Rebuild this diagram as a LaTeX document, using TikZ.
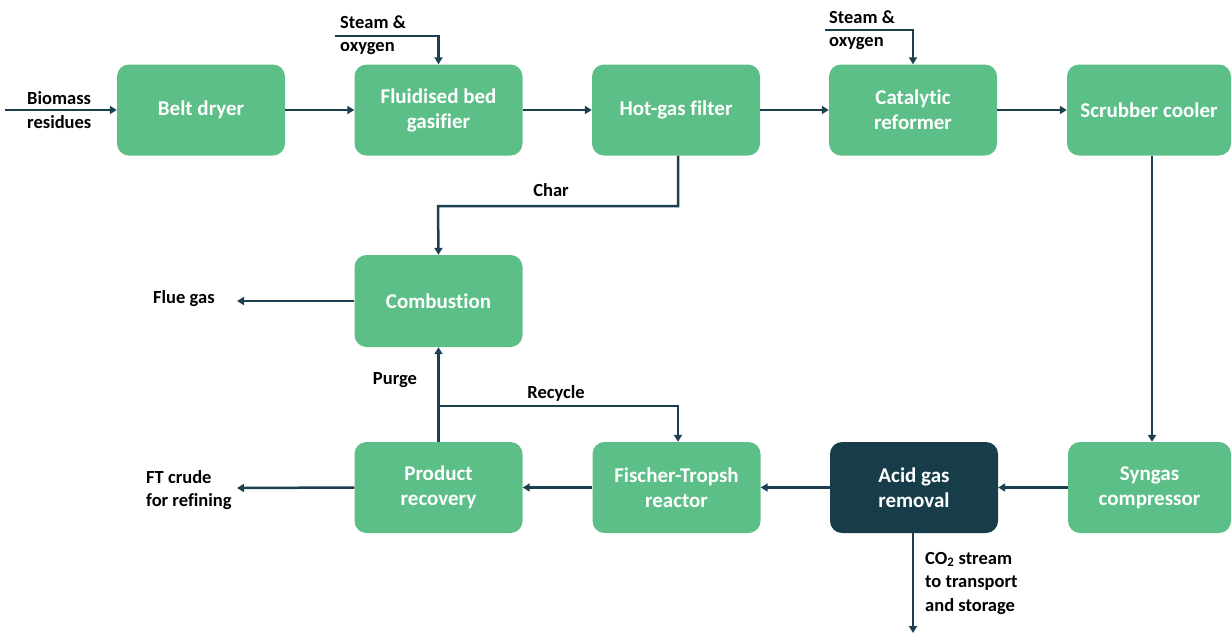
\documentclass[tikz,border=0pt]{standalone}
\usepackage{fontspec}
\setmainfont{Carlito}[RawFeature={-liga,-clig}]
\usetikzlibrary{arrows.meta}
\definecolor{boxgreen}{HTML}{5CBF88}
\definecolor{boxdark}{HTML}{173D4A}
\definecolor{linecol}{HTML}{1B4150}
\begin{document}
\begin{tikzpicture}[x=1pt,y=-1pt,
  proc/.style={draw=none,fill=boxgreen,rounded corners=12pt,minimum width=168pt,minimum height=91pt,
    text=white,font=\bfseries\fontsize{21}{25}\selectfont,align=center,inner sep=0pt},
  darkproc/.style={proc,fill=boxdark},
  flow/.style={draw=linecol,line width=2.5pt,-{Triangle[length=7pt,width=8pt]}},
  lbl/.style={font=\bfseries\fontsize{18.5}{23.5}\selectfont,align=left,inner sep=0pt,text=black}]
\useasboundingbox (0,0) rectangle (1231,633);
% boxes
\node[proc] (belt) at (201,110) {Belt dryer};
\node[proc] (fbg) at (438.5,110) {Fluidised bed\\gasifier};
\node[proc] (hgf) at (676,110) {Hot-gas filter};
\node[proc] (cat) at (913,110) {Catalytic\\reformer};
\node[proc,minimum width=164pt] (scr) at (1149,110) {Scrubber cooler};
\node[proc,minimum height=92pt] (comb) at (438.5,301) {Combustion};
\node[proc] (prod) at (438.5,487.5) {Product\\recovery};
\node[proc] (ft) at (676.5,487.5) {Fischer-Tropsh\\reactor};
\node[darkproc] (agr) at (914,487.5) {Acid gas\\removal};
\node[proc,minimum width=163pt] (syn) at (1149.5,487.5) {Syngas\\compressor};
% free-end coordinates
\coordinate (bioin) at (5,110);
\coordinate (st1) at (335,36);
\coordinate (st2) at (825,30);
\coordinate (flue) at (237,301);
\coordinate (ftout) at (237,488);
\coordinate (co2) at (913,633);
\coordinate (charA) at (678,206);
\coordinate (charB) at (438,206);
\coordinate (split) at (438,406);
\coordinate (recyc) at (678,406);
% labels
\node[lbl,anchor=west] (lbio) at (27,110) {Biomass\\residues};
\node[lbl,anchor=west] (lst1) at (340,35) {Steam \&\\oxygen};
\node[lbl,anchor=west] (lst2) at (829,30) {Steam \&\\oxygen};
\node[lbl,anchor=west] (lflue) at (153,299) {Flue gas};
\node[lbl,anchor=west] (lft) at (146,490) {FT crude\\for refining};
\node[lbl,anchor=west] (lco2) at (925,583) {CO\textsubscript{2} stream\\to transport\\and storage};
\node[lbl] (lchar) at (551,190) {Char};
\node[lbl] (lpurge) at (395,380) {Purge};
\node[lbl] (lrec) at (556,393) {Recycle};
% connectors
\draw[flow] (bioin) -- (belt.west);
\draw[flow] (belt.east) -- (fbg.west);
\draw[flow] (st1) -| (fbg.north);
\draw[flow] (fbg.east) -- (hgf.west);
\draw[flow] (hgf.east) -- (cat.west);
\draw[flow] (st2) -| (cat.north);
\draw[flow] (cat.east) -- (scr.west);
\draw[flow] (scr.south -| 1152,0) -- (syn.north -| 1152,0);
\draw[flow] (syn.west) -- (agr.east);
\draw[flow] (agr.west) -- (ft.east);
\draw[flow] (ft.west) -- (prod.east);
\draw[flow] (prod.west) -- (ftout);
\draw[flow] (agr.south -| co2) -- (co2);
\draw[flow] (charA |- hgf.south) -- (charA) -- (charB) -- (comb.north);
\draw[flow] (comb.west) -- (flue);
\draw[flow] (prod.north) -- (comb.south);
\draw[flow] (split) -- (recyc) -- (recyc |- ft.north);
\end{tikzpicture}
\end{document}
